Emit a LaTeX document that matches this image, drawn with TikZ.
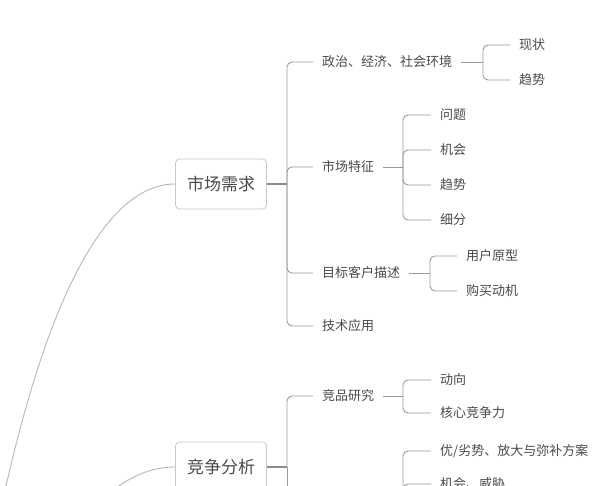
\documentclass[tikz,border=0pt]{standalone}
\usepackage{fontspec}
\setmainfont{Noto Sans CJK SC}
\definecolor{boxgray}{HTML}{c8c8c8}
\definecolor{textgray}{HTML}{4a4a4a}
\definecolor{branchgray}{HTML}{9a9a9a}
\definecolor{curvegray}{HTML}{b8b8b8}
\tikzset{
  topic/.style={draw=boxgray, line width=0.8pt, rounded corners=4pt, fill=white,
    minimum width=91pt, minimum height=50pt, inner sep=0pt,
    font=\fontsize{17}{20}\selectfont, text=textgray},
  leaf/.style={anchor=west, inner xsep=9pt, inner ysep=3pt,
    font=\fontsize{13}{15}\selectfont, text=textgray},
  branch/.style={draw=branchgray, line width=0.9pt, rounded corners=5pt},
  stem/.style={draw=branchgray!90!black, line width=1.5pt},
  curve/.style={draw=curvegray, line width=0.9pt},
}

\begin{document}
\begin{tikzpicture}[x=1pt, y=-1pt]
      \useasboundingbox (0,0) rectangle (612,486);
      \fill[white] (0,0) rectangle (612,486);
      \clip (0,0) rectangle (612,486);
      % Define nodes
      \coordinate (root) at (-20,620);
      \node[topic] (mkt) at (221,184) {市场需求};
      \node[topic] (cmp) at (221,467) {竞争分析};
      \node[leaf] (pol)  at (313,62)  {政治、经济、社会环境};
      \node[leaf] (feat) at (313,167) {市场特征};
      \node[leaf] (cust) at (313,273) {目标客户描述};
      \node[leaf] (tech) at (313,326) {技术应用};
      \node[leaf] (now)    at (510,45) {现状};
      \node[leaf] (trend)  at (510,80) {趋势};
      \node[leaf] (issue)  at (431,115) {问题};
      \node[leaf] (chance) at (431,150) {机会};
      \node[leaf] (trend2) at (431,185) {趋势};
      \node[leaf] (seg)    at (431,220) {细分};
      \node[leaf] (proto)  at (457,256) {用户原型};
      \node[leaf] (motive) at (457,291) {购买动机};
      \node[leaf] (rival)  at (313,396) {竞品研究};
      \node[leaf] (move)   at (431,380) {动向};
      \node[leaf] (core)   at (431,413) {核心竞争力};
      \node[leaf] (adv)    at (431,451) {优/劣势、放大与弥补方案};
      \node[leaf] (risk)   at (431,484) {机会、威胁};
      % Junctions
      \coordinate (mktj)  at (287,184);
      \coordinate (polj)  at (483,62);
      \coordinate (featj) at (403,167);
      \coordinate (custj) at (430,273);
      \coordinate (cmpj)  at (287,467);
      \coordinate (cmpnext) at (287,560);
      \coordinate (rivalj) at (403,396);
      \coordinate (swotj)  at (403,540);
      % Curves from the root
      \draw[curve] (root) .. controls (30,320) and (100,184) .. (mkt.west);
      \draw[curve] (root) .. controls (60,560) and (100,467) .. (cmp.west);
      % Branches
      \draw[stem] (mkt.east) -- (mktj);
      \draw[stem] (cmp.east) -- (cmpj);
      \foreach \c in {pol,feat,cust,tech}
        \draw[branch] (mktj) |- (\c.west);
      \draw[branch] (pol.east) -- (polj);
      \foreach \c in {now,trend}
        \draw[branch] (polj) |- (\c.west);
      \draw[branch] (feat.east) -- (featj);
      \foreach \c in {issue,chance,trend2,seg}
        \draw[branch] (featj) |- (\c.west);
      \draw[branch] (cust.east) -- (custj);
      \foreach \c in {proto,motive}
        \draw[branch] (custj) |- (\c.west);
      \draw[branch] (cmpj) |- (rival.west);
      \draw[branch] (cmpj) -- (cmpnext);
      \draw[branch] (rival.east) -- (rivalj);
      \foreach \c in {move,core}
        \draw[branch] (rivalj) |- (\c.west);
      \foreach \c in {adv,risk}
        \draw[branch] (swotj) |- (\c.west);
\end{tikzpicture}
\end{document}
